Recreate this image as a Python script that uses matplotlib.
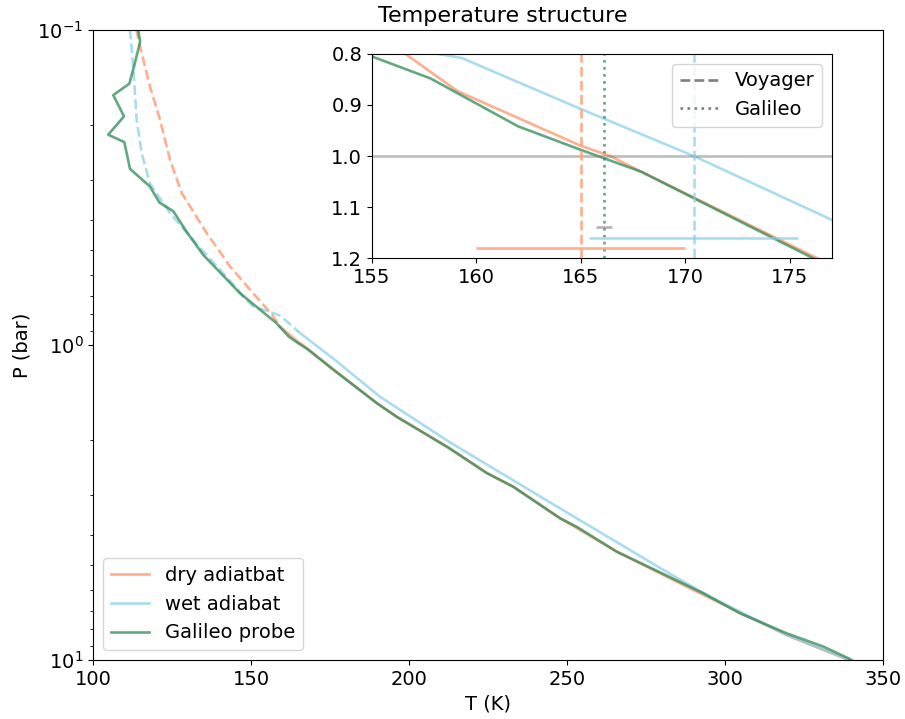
import matplotlib.pyplot as plt
import numpy as np

# dry adiabat (T in K, P in bar)
dry_T = [112.8, 114.9, 118.0, 121.2, 124.4, 128.1, 136.0, 143.4, 149.7, 156.6, 159.1,
         165.0, 166.4, 167.9, 176.3, 189.8, 196.1, 211.9, 224.6, 233.0, 247.8, 265.7,
         277.3, 290.0, 319.5, 338.5, 341.5]
dry_P = [0.09, 0.113, 0.151, 0.193, 0.259, 0.330, 0.442, 0.564, 0.668, 0.80, 0.873,
         0.980, 1.0, 1.031, 1.2, 1.53, 1.69, 2.10, 2.55, 2.82, 3.55, 4.53,
         5.18, 6.00, 8.34, 9.94, 10.3]

# wet adiabat
wet_T = [111.3, 112.8, 113.8, 115.4, 118.0, 124.4, 130.7, 141.2, 148.1, 150.7, 156.0,
         159.3, 165.0, 170.4, 177.0, 190.8, 213.0, 244.6, 280.5, 294.2, 319.5,
         338.5, 341.5]
wet_P = [0.09, 0.134, 0.193, 0.246, 0.307, 0.382, 0.453, 0.592, 0.711, 0.755, 0.785,
         0.808, 0.908, 1.0, 1.125, 1.46, 2.04, 3.16, 5.18, 6.22, 8.34,
         9.94, 10.3]

# Galileo probe profile
gal_T = [114.5, 114.3, 114.9, 113.1, 111.5, 106.4, 109.8, 104.8, 109.9, 111.7, 118.0,
         121.0, 125.4, 129.6, 134.9, 146.5, 155.0, 157.8, 162.0, 165.0, 167.9, 176.1,
         189.8, 196.1, 212.5, 224.6, 233.0, 247.8, 253.1, 265.7, 277.3, 293.1, 304.7,
         319.5, 331.1, 339.6, 342.0]
gal_P = [0.09, 0.1, 0.109, 0.129, 0.148, 0.161, 0.188, 0.215, 0.227, 0.276, 0.314,
         0.353, 0.376, 0.437, 0.518, 0.685, 0.805, 0.848, 0.942, 0.988, 1.031, 1.2,
         1.53, 1.69, 2.12, 2.55, 2.82, 3.55, 3.78, 4.53, 5.15, 6.14, 7.11,
         8.23, 9.07, 9.94, 10.3]

# 1 bar temperatures and uncertainties
voy_dry, voy_dry_err = 165.0, 5.0
voy_wet, voy_wet_err = 170.4, 5.0
gal_1bar, gal_1bar_err = 166.1, 0.4

c_dry = '#ffa07a'
c_wet = '#87ceeb'
c_gal = '#2e8b57'
split_P = 0.85

fig = plt.figure(figsize=(9.05, 7.19), dpi=100)
ax = fig.add_axes([0.1028, 0.0821, 0.873, 0.8762])


def split_plot(axis, T, P, color, label, alpha):
    T = np.array(T)
    P = np.array(P)
    k = np.argmax(P > split_P)
    axis.plot(T[:k + 1], P[:k + 1], '--', color=color, lw=1.9, alpha=alpha)
    axis.plot(T[k:], P[k:], '-', color=color, lw=1.9, alpha=alpha, label=label)


split_plot(ax, dry_T, dry_P, c_dry, 'dry adiatbat', 0.85)
split_plot(ax, wet_T, wet_P, c_wet, 'wet adiabat', 0.7)
ax.plot(gal_T, gal_P, color=c_gal, lw=1.9, alpha=0.75, label='Galileo probe')

ax.set_yscale('log')
ax.set_xlim(100, 350)
ax.set_ylim(10, 0.1)
ax.set_xlabel('T (K)', fontsize=14)
ax.set_ylabel('P (bar)', fontsize=14)
ax.set_title('Temperature structure', fontsize=16, x=0.519)
ax.tick_params(labelsize=14)
ax.legend(loc='lower left', fontsize=14)

# inset around 1 bar
ins = fig.add_axes([0.411, 0.641, 0.508, 0.284])
ins.plot(dry_T, dry_P, color=c_dry, lw=1.9, alpha=0.85)
ins.plot(wet_T, wet_P, color=c_wet, lw=1.9, alpha=0.7)
ins.plot(gal_T, gal_P, color=c_gal, lw=1.9, alpha=0.75)
ins.axhline(1.0, color='gray', lw=2, alpha=0.5)
ins.axvline(voy_dry, color=c_dry, ls='--', lw=1.9, alpha=0.85)
ins.axvline(voy_wet, color=c_wet, ls='--', lw=1.9, alpha=0.7)
ins.axvline(gal_1bar, color=c_gal, ls=':', lw=1.9, alpha=0.75)
ins.errorbar(voy_dry, 1.18, xerr=voy_dry_err, color=c_dry, lw=1.9, alpha=0.85)
ins.errorbar(voy_wet, 1.16, xerr=voy_wet_err, color=c_wet, lw=1.9, alpha=0.7)
ins.errorbar(gal_1bar, 1.14, xerr=gal_1bar_err, color='gray', lw=1.9, alpha=0.6)
ins.plot([], [], '--', color='gray', lw=1.9, label='Voyager')
ins.plot([], [], ':', color='gray', lw=1.9, label='Galileo')
ins.set_xlim(155, 177)
ins.set_ylim(1.2, 0.8)
ins.set_xticks([155, 160, 165, 170, 175])
ins.set_yticks([0.8, 0.9, 1.0, 1.1, 1.2])
ins.tick_params(labelsize=14)
ins.legend(loc='upper right', fontsize=14)

plt.savefig('out.png', dpi=100)
